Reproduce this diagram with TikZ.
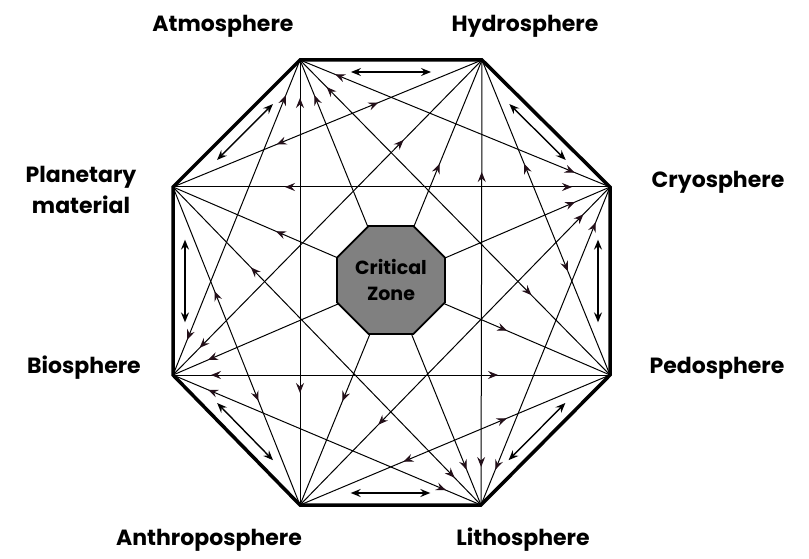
\documentclass[tikz,border=0pt]{standalone}
\usepackage{fontspec}
\setmainfont{Poppins}
\usetikzlibrary{arrows.meta, calc, decorations.markings, shapes.geometric, backgrounds}
\definecolor{tipcol}{RGB}{35,15,25}

\begin{document}
\begin{tikzpicture}[
    x=1pt, y=-1pt,
    >={Stealth[length=10pt, width=8pt, inset=3.5pt]},
    rim/.style={
        draw=black,
        line width=3.5pt,
        line join=miter
    },
    link/.style 2 args={
        draw=black,
        line width=1pt,
        postaction={decorate, decoration={markings,
            mark=at position #1 with {\arrowreversed[tipcol]{>}},
            mark=at position -#2 with {\arrow[tipcol]{>}}}}
    },
    pair/.style={
        draw=black,
        line width=1.4pt,
        <->
    },
    zone/.style={
        regular polygon,
        regular polygon sides=8,
        minimum size=117pt,
        inner sep=0pt,
        draw=black,
        line width=1.8pt,
        fill=black!50,
        align=center,
        font=\bfseries\fontsize{19}{26}\selectfont
    },
    sphere/.style={
        inner sep=0pt,
        align=center,
        font=\bfseries\fontsize{22}{31}\selectfont
    }
]
\useasboundingbox (0,0) rectangle (809,559);

% Corners of the outer octagon
\coordinate (A) at (300,60);
\coordinate (H) at (482,60);
\coordinate (C) at (610,187);
\coordinate (P) at (610,375);
\coordinate (L) at (481,505);
\coordinate (N) at (300,505);
\coordinate (B) at (173,375);
\coordinate (M) at (173,187);

% Labels
\node [sphere, anchor=base] (atm) at (223,32) {Atmosphere};
\node [sphere, anchor=base] (hyd) at (525,32) {Hydrosphere};
\node [sphere, anchor=base] (cry) at (718,188) {Cryosphere};
\node [sphere, anchor=base] (ped) at (717,373) {Pedosphere};
\node [sphere, anchor=base] (lit) at (523,545) {Lithosphere};
\node [sphere, anchor=base] (ant) at (209,545) {Anthroposphere};
\node [sphere, anchor=base] (bio) at (84,373) {Biosphere};
\node [sphere] (pla) at (81,190) {Planetary\\material};

% Centre
\node [zone] (cz) at (391,280) {Critical\\Zone};

\begin{pgfonlayer}{background}
% Chords skipping one corner
\path [link={38pt}{38pt}] (A) -- (C);
\path [link={112pt}{112pt}] (H) -- (P);
\path [link={38pt}{38pt}] (C) -- (L);
\path [link={112pt}{112pt}] (P) -- (N);
\path [link={38pt}{38pt}] (L) -- (B);
\path [link={112pt}{112pt}] (N) -- (M);
\path [link={38pt}{38pt}] (B) -- (A);
\path [link={112pt}{112pt}] (M) -- (H);

% Chords skipping two corners
\path [link={38pt}{112pt}] (A) -- (P);
\path [link={112pt}{38pt}] (H) -- (L);
\path [link={38pt}{112pt}] (C) -- (N);
\path [link={112pt}{38pt}] (P) -- (B);
\path [link={38pt}{112pt}] (L) -- (M);
\path [link={112pt}{38pt}] (N) -- (A);
\path [link={38pt}{112pt}] (B) -- (H);
\path [link={112pt}{38pt}] (M) -- (C);

% Diagonals, hidden behind the critical zone
\path [link={38pt}{38pt}] (A) -- (L);
\path [link={112pt}{112pt}] (H) -- (N);
\path [link={38pt}{38pt}] (C) -- (B);
\path [link={112pt}{112pt}] (P) -- (M);

% Two-way arrows along the rim
\path [pair] ($(A)!0.28!(H)!12pt!-90:(H)$) -- ($(H)!0.28!(A)!12pt!90:(A)$);
\path [pair] ($(H)!0.28!(C)!12pt!-90:(C)$) -- ($(C)!0.28!(H)!12pt!90:(H)$);
\path [pair] ($(C)!0.28!(P)!12pt!-90:(P)$) -- ($(P)!0.28!(C)!12pt!90:(C)$);
\path [pair] ($(P)!0.28!(L)!12pt!-90:(L)$) -- ($(L)!0.28!(P)!12pt!90:(P)$);
\path [pair] ($(L)!0.28!(N)!12pt!-90:(N)$) -- ($(N)!0.28!(L)!12pt!90:(L)$);
\path [pair] ($(N)!0.28!(B)!12pt!-90:(B)$) -- ($(B)!0.28!(N)!12pt!90:(N)$);
\path [pair] ($(B)!0.28!(M)!12pt!-90:(M)$) -- ($(M)!0.28!(B)!12pt!90:(B)$);
\path [pair] ($(M)!0.28!(A)!12pt!-90:(A)$) -- ($(A)!0.28!(M)!12pt!90:(M)$);

% Outer octagon
\path [rim] (A) -- (H) -- (C) -- (P) -- (L) -- (N) -- (B) -- (M) -- cycle;
\end{pgfonlayer}

\end{tikzpicture}
\end{document}
